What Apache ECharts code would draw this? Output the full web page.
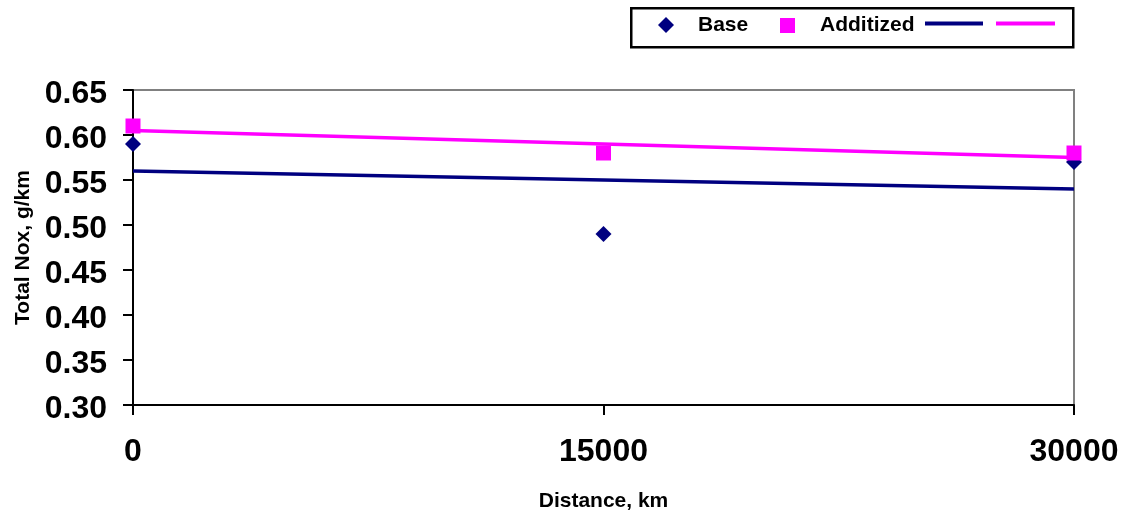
<!DOCTYPE html>
<html>
<head>
<meta charset="utf-8">
<script src="https://cdn.jsdelivr.net/npm/echarts@6/dist/echarts.min.js"></script>
<style>
  html, body { margin: 0; padding: 0; background: #fff; }
  #chart { width: 1127px; height: 515px; }
</style>
</head>
<body>
<div id="chart"></div>
<script>
// Total NOx emissions vs. accumulated distance
const distances = [0, 15000, 30000];
const baseValues = [0.59, 0.49, 0.57];
const additizedValues = [0.61, 0.58, 0.58];
// linear trend lines, endpoint values at 0 and 30000 km
const trendX = [0, 30000];
const baseTrend = [0.56, 0.54];
const additizedTrend = [0.605, 0.575];
const xTicks = [0, 15000, 30000];
const yTicks = [0.30, 0.35, 0.40, 0.45, 0.50, 0.55, 0.60, 0.65];

const NAVY = '#000080';
const MAGENTA = '#FF00FF';
const FONT = 'Arial, "Liberation Sans", sans-serif';

const pairs = (xs, ys) => xs.map((x, i) => [x, ys[i]]);

const chart = echarts.init(document.getElementById('chart'), null, { renderer: 'canvas' });

chart.setOption({
  animation: false,
  backgroundColor: '#fff',
  textStyle: { fontFamily: FONT },
  grid: {
    left: 133, right: 53, top: 90, bottom: 110,
    containLabel: false, outerBoundsMode: 'none',
    show: true, borderColor: '#808080', borderWidth: 2, backgroundColor: 'transparent'
  },
  xAxis: {
    type: 'value',
    min: xTicks[0], max: xTicks[xTicks.length - 1], interval: 15000,
    name: 'Distance, km', nameLocation: 'middle', nameGap: 86,
    nameTextStyle: { fontFamily: FONT, fontWeight: 'bold', fontSize: 21, color: '#000' },
    axisLine: { show: true, onZero: false, lineStyle: { color: '#000', width: 2 } },
    axisTick: { show: true, inside: false, length: 10, lineStyle: { color: '#000', width: 2 } },
    axisLabel: {
      margin: 31, fontFamily: FONT, fontWeight: 'bold', fontSize: 32, color: '#000',
      formatter: v => String(v)
    },
    splitLine: { show: false }
  },
  yAxis: {
    type: 'value',
    min: yTicks[0], max: yTicks[yTicks.length - 1], interval: 0.05,
    name: 'Total Nox, g/km', nameLocation: 'middle', nameGap: 99, nameRotate: 90,
    nameTextStyle: { fontFamily: FONT, fontWeight: 'bold', fontSize: 21, color: '#000' },
    axisLine: { show: true, onZero: false, lineStyle: { color: '#000', width: 2 } },
    axisTick: { show: true, inside: false, length: 10, lineStyle: { color: '#000', width: 2 } },
    axisLabel: {
      margin: 26, color: '#000',
      formatter: v => '{n|' + v.toFixed(2) + '}',
      rich: {
        n: {
          fontFamily: FONT, fontWeight: 'bold', fontSize: 32, color: '#000',
          padding: [8, 0, 0, 0]
        }
      }
    },
    splitLine: { show: false }
  },
  series: [
    {
      name: 'Base trend', type: 'line', data: pairs(trendX, baseTrend),
      symbol: 'none', lineStyle: { color: NAVY, width: 3.5 }, z: 2
    },
    {
      name: 'Additized trend', type: 'line', data: pairs(trendX, additizedTrend),
      symbol: 'none', lineStyle: { color: MAGENTA, width: 3.5 }, z: 2
    },
    {
      name: 'Base', type: 'scatter', data: pairs(distances, baseValues),
      symbol: 'diamond', symbolSize: 16, itemStyle: { color: NAVY, opacity: 1 }, z: 3
    },
    {
      name: 'Additized', type: 'scatter', data: pairs(distances, additizedValues),
      symbol: 'rect', symbolSize: 15, itemStyle: { color: MAGENTA, opacity: 1 }, z: 4
    }
  ],
  graphic: [
    {
      type: 'rect', left: 630, top: 7,
      shape: { width: 442, height: 39 },
      style: { fill: '#fff', stroke: '#000', lineWidth: 2.5 }
    },
    {
      type: 'polygon',
      shape: { points: [[666, 17], [674, 25], [666, 33], [658, 25]] },
      style: { fill: NAVY }
    },
    {
      type: 'text', left: 698, top: 15,
      style: { text: 'Base', font: 'bold 21px ' + FONT, fill: '#000' }
    },
    {
      type: 'rect', shape: { x: 780, y: 18, width: 15, height: 15 },
      style: { fill: MAGENTA }
    },
    {
      type: 'text', left: 820, top: 15,
      style: { text: 'Additized', font: 'bold 21px ' + FONT, fill: '#000' }
    },
    {
      type: 'line', shape: { x1: 925, y1: 23.5, x2: 983, y2: 23.5 },
      style: { stroke: NAVY, lineWidth: 4 }
    },
    {
      type: 'line', shape: { x1: 996, y1: 23.5, x2: 1055, y2: 23.5 },
      style: { stroke: MAGENTA, lineWidth: 4 }
    }
  ]
});
</script>
</body>
</html>
